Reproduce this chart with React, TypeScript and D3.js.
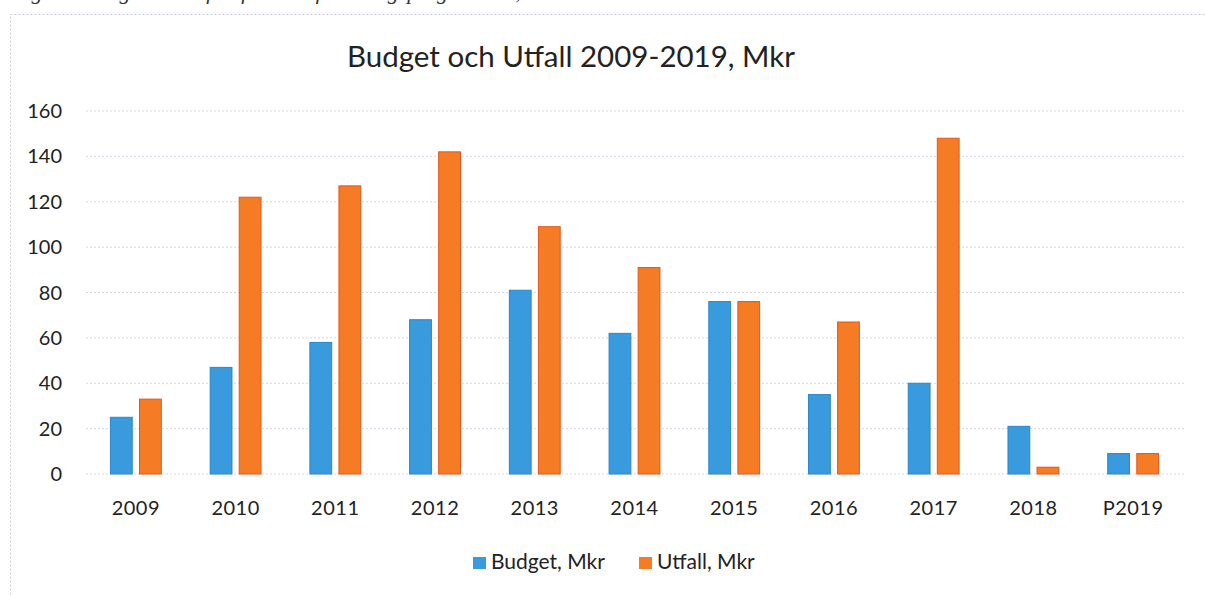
import React, { Component } from 'react';
import * as d3 from 'd3';

const years = ['2009', '2010', '2011', '2012', '2013', '2014', '2015', '2016', '2017', '2018', 'P2019'];
const budget = [25, 47, 58, 68, 81, 62, 76, 35, 40, 21, 9];
const utfall = [33, 122, 127, 142, 109, 91, 76, 67, 148, 3, 9];
const seriesNames = ['Budget, Mkr', 'Utfall, Mkr'];
const yTicks = [0, 20, 40, 60, 80, 100, 120, 140, 160];

const W = 1205;
const H = 596;
const FONT = 'Lato, "Open Sans", sans-serif';

export default class App extends Component {
    svgRef = React.createRef<SVGSVGElement>();

    componentDidMount() {
        this.drawChart();
    }

    drawChart() {
        const svg = d3.select(this.svgRef.current);
        svg.selectAll('*').remove();

        const colors = d3.scaleOrdinal<string, string>()
            .domain(seriesNames)
            .range(['#3a9ade', '#f57b24']);
        const strokes = d3.scaleOrdinal<string, string>()
            .domain(seriesNames)
            .range(['#2a86cc', '#e5561c']);

        const x = d3.scaleBand().domain(years).range([86, 1183]).padding(0);
        const step = x.bandwidth();
        const x1 = d3.scaleBand()
            .domain(seriesNames)
            .range([step * 0.245, step * 0.755])
            .paddingInner(0.25)
            .paddingOuter(0);
        const y = d3.scaleLinear().domain([0, 160]).range([474, 111]);

        // caption of the page above the chart, only its lower edge shows
        svg.append('text')
            .attr('x', 12)
            .attr('y', -1)
            .attr('font-family', '"Liberation Serif", serif')
            .attr('font-style', 'italic')
            .attr('font-size', 22)
            .attr('fill', '#333')
            .text('Figur 3  Budget och utfall för hela forskningsprogrammet, Mkr');

        // chart frame
        svg.append('rect')
            .attr('x', 10.5)
            .attr('y', 14.5)
            .attr('width', 1300)
            .attr('height', 700)
            .attr('fill', '#fff')
            .attr('stroke', '#c9cad8')
            .attr('stroke-dasharray', '2,2');

        svg.append('text')
            .attr('x', 571)
            .attr('y', 67)
            .attr('text-anchor', 'middle')
            .attr('font-family', FONT)
            .attr('font-size', 29.5)
            .attr('fill', '#222')
            .text('Budget och Utfall 2009-2019, Mkr');

        // gridlines
        svg.append('g')
            .selectAll('line')
            .data(yTicks)
            .enter()
            .append('line')
            .attr('x1', 86)
            .attr('x2', 1185)
            .attr('y1', d => y(d))
            .attr('y2', d => y(d))
            .attr('stroke', '#d5d6e4')
            .attr('stroke-dasharray', '2,2');

        svg.append('g')
            .selectAll('text')
            .data(yTicks)
            .enter()
            .append('text')
            .attr('x', 62)
            .attr('y', d => y(d) + 7)
            .attr('text-anchor', 'end')
            .attr('font-family', FONT)
            .attr('font-size', 20)
            .attr('fill', '#222')
            .text(d => d);

        const rows = years.map((yr, i) => ({ year: yr, values: [budget[i], utfall[i]] }));

        const groups = svg.append('g')
            .selectAll('g')
            .data(rows)
            .enter()
            .append('g')
            .attr('transform', d => `translate(${x(d.year)},0)`);

        groups.selectAll('rect')
            .data(d => d.values.map((v, j) => ({ key: seriesNames[j], value: v })))
            .enter()
            .append('rect')
            .attr('x', d => x1(d.key) as number)
            .attr('y', d => y(d.value))
            .attr('width', x1.bandwidth())
            .attr('height', d => y(0) - y(d.value))
            .attr('fill', d => colors(d.key))
            .attr('stroke', d => strokes(d.key))
            .attr('stroke-width', 1);

        svg.append('g')
            .selectAll('text')
            .data(years)
            .enter()
            .append('text')
            .attr('x', d => (x(d) as number) + step / 2)
            .attr('y', 515)
            .attr('text-anchor', 'middle')
            .attr('font-family', FONT)
            .attr('font-size', 20)
            .attr('letter-spacing', 0.5)
            .attr('fill', '#222')
            .text(d => d);

        // legend
        const legendX = [473, 639];
        const legend = svg.append('g')
            .selectAll('g')
            .data(seriesNames)
            .enter()
            .append('g')
            .attr('transform', (d, i) => `translate(${legendX[i]},0)`);
        legend.append('rect')
            .attr('x', 0)
            .attr('y', 557)
            .attr('width', 13)
            .attr('height', 12)
            .attr('fill', d => colors(d));
        legend.append('text')
            .attr('x', 18)
            .attr('y', 569)
            .attr('font-family', FONT)
            .attr('font-size', 21)
            .attr('fill', '#222')
            .text(d => d);
    }

    render() {
        return (
            <svg ref={this.svgRef}
                width={W}
                height={H}
                style={{ position: 'absolute', left: 0, top: 0, background: '#fff' }}
            >
            </svg>
        );
    }
}
